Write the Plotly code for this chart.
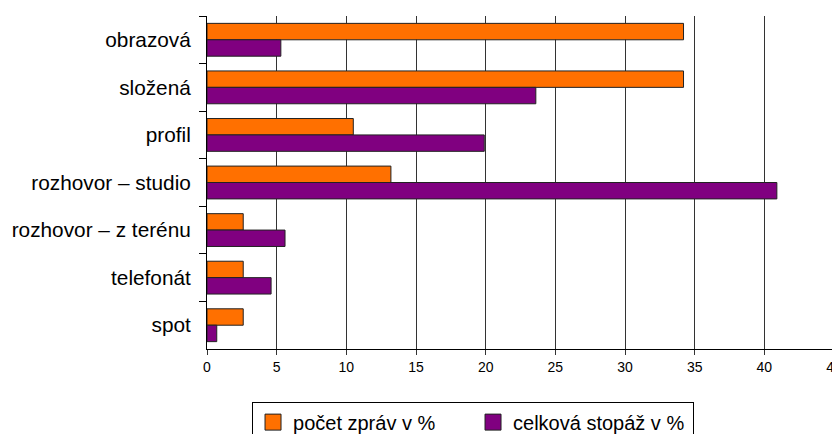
import plotly.graph_objects as go

categories = ["obrazová", "složená", "profil", "rozhovor – studio",
              "rozhovor – z terénu", "telefonát", "spot"]
pocet_zprav = [34.2, 34.2, 10.5, 13.2, 2.6, 2.6, 2.6]
celkova_stopaz = [5.3, 23.6, 19.9, 40.9, 5.6, 4.6, 0.7]
series_names = ["počet zpráv v %", "celková stopáž v %"]
colors = ["#FF7000", "#800080"]
x_ticks = [0, 5, 10, 15, 20, 25, 30, 35, 40, 45]

fig = go.Figure()
for vals, name, col in zip([pocet_zprav, celkova_stopaz], series_names, colors):
    fig.add_trace(go.Bar(y=categories, x=vals, orientation="h", name=name,
                         showlegend=False,
                         marker=dict(color=col, line=dict(color="#222222", width=1))))
# legend entries with larger square swatches
for name, col in zip(series_names, colors):
    fig.add_trace(go.Scatter(x=[None], y=[None], mode="markers", name=name,
                             marker=dict(symbol="square", size=16, color=col,
                                         line=dict(color="#222222", width=1))))

fig.update_layout(
    width=832, height=426,
    margin=dict(l=199, r=6, t=8, b=85, autoexpand=False),
    paper_bgcolor="white", plot_bgcolor="white",
    barmode="group", bargap=0.31, bargroupgap=0,
    font=dict(family="Liberation Sans, Arial, sans-serif", color="black"),
    showlegend=True,
    legend=dict(orientation="h", x=0.0718, xanchor="left", y=-0.158, yanchor="top",
                bordercolor="black", borderwidth=1, font=dict(size=20),
                traceorder="normal", itemwidth=30, entrywidth=175,
                itemsizing="trace"),
    xaxis=dict(range=[0, 45], tickvals=x_ticks, showgrid=True, gridcolor="#333333",
               gridwidth=1, showline=True, linecolor="black", linewidth=1,
               ticks="outside", ticklen=5, tickcolor="#333333",
               tickfont=dict(size=14), zeroline=False, automargin=False,
               ticklabeloverflow="allow"),
    yaxis=dict(autorange="reversed", showline=True, linecolor="black", linewidth=1,
               ticks="outside", ticklen=7, tickcolor="black", tickson="boundaries",
               tickfont=dict(size=20.8), ticklabelstandoff=11, showgrid=False,
               automargin=False),
)

fig.write_html("out.html")
